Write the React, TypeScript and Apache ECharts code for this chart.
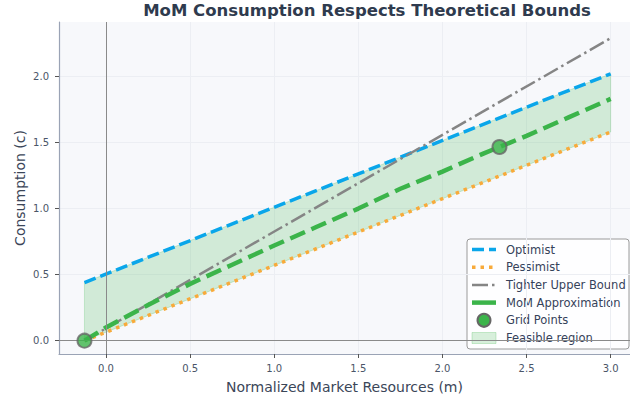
import React, { useEffect, useRef } from "react";
import * as echarts from "echarts";

// Normalized market resources and consumption bounds
const mStart = -0.128;
const mEnd = 3.0;
const optimistC = [0.44, 2.02];
const pessimistC = [0.0, 1.58];
const tighterC = [0.0, 2.29];

// MoM consumption function
const momM = [-0.128, 0.0, 0.25, 0.5, 0.75, 1.0, 1.25, 1.5, 1.75, 2.0, 2.25, 2.5, 2.75, 3.0];
const momC = [0.0, 0.1, 0.27, 0.43, 0.575, 0.72, 0.86, 1.0, 1.15, 1.28, 1.42, 1.55, 1.69, 1.83];

// Grid points of the solution
const gridM = [-0.128, 2.339];
const gridC = [0.0, 1.466];

const xTicks = [0, 0.5, 1.0, 1.5, 2.0, 2.5, 3.0];
const yTicks = [0, 0.5, 1.0, 1.5, 2.0];

const FONT = "DejaVu Sans";
const BLUE = "#0aa6ea";
const ORANGE = "#f8aa3a";
const GRAY = "#858585";
const GREEN = "#3bb44a";
const FILL = "rgba(59,180,74,0.2)";

const legendItems = ["Optimist", "Pessimist", "Tighter Upper Bound", "MoM Approximation", "Grid Points", "Feasible region"];

export default function App() {
  const ref = useRef<HTMLDivElement>(null);

  useEffect(() => {
    if (!ref.current) return;
    const chart = echarts.init(ref.current, null, { renderer: "svg" });

    const ends = [mStart, mEnd];
    const pair = (xs: number[], ys: number[]) => xs.map((x, i) => [x, ys[i]]);

    // legend drawn as a boxed list at the lower right
    const lx = 467;
    const ly = 239;
    const rowH = 17.7;
    const hx0 = 472;
    const hx1 = 496;
    const legendChildren: any[] = [
      {
        type: "rect",
        shape: { x: lx, y: ly, width: 162, height: 110, r: 3 },
        style: { fill: "rgba(255,255,255,0.85)", stroke: "#9a9a9a", lineWidth: 1 },
      },
    ];
    const handles = [
      { dash: [12, 5], color: BLUE, w: 3.5 },
      { dash: [3.5, 5], color: ORANGE, w: 3.5 },
      { dash: [16, 4, 2.5, 4], color: GRAY, w: 2.5 },
      { dash: null, color: GREEN, w: 4.5 },
    ];
    legendItems.forEach((name, i) => {
      const cy = ly + 10.5 + i * rowH;
      if (i < 4) {
        const h = handles[i];
        legendChildren.push({
          type: "line",
          shape: { x1: hx0, y1: cy, x2: hx1, y2: cy },
          style: { stroke: h.color, lineWidth: h.w, lineDash: h.dash || undefined },
        });
      } else if (i === 4) {
        legendChildren.push({
          type: "circle",
          shape: { cx: (hx0 + hx1) / 2, cy, r: 6.5 },
          style: { fill: GREEN, stroke: "#666", lineWidth: 2 },
        });
      } else {
        legendChildren.push({
          type: "rect",
          shape: { x: hx0, y: cy - 5.5, width: hx1 - hx0, height: 11 },
          style: { fill: FILL, stroke: "rgba(59,180,74,0.25)", lineWidth: 1 },
        });
      }
      legendChildren.push({
        type: "text",
        style: {
          x: 506,
          y: cy,
          text: name,
          font: `11.5px "${FONT}"`,
          fill: "#36425a",
          verticalAlign: "middle",
          align: "left",
        },
      });
    });

    chart.setOption({
      animation: false,
      backgroundColor: "#ffffff",
      textStyle: { fontFamily: FONT },
      title: {
        text: "MoM Consumption Respects Theoretical Bounds",
        left: 362,
        top: -3,
        textAlign: "center",
        textStyle: { fontFamily: FONT, fontSize: 16.5, fontWeight: "bold", color: "#2f3b4e" },
      },
      grid: {
        left: 59,
        right: 0,
        top: 22,
        bottom: 46,
        show: true,
        backgroundColor: "#f7f8fb",
        borderWidth: 0,
      },
      xAxis: {
        type: "value",
        min: -0.2794,
        max: 3.115,
        name: "Normalized Market Resources (m)",
        nameLocation: "middle",
        nameGap: 26,
        nameMoveOverlap: false,
        nameTextStyle: { fontFamily: FONT, fontSize: 14, color: "#3b4658" },
        axisLine: { show: true, onZero: false, lineStyle: { color: "#9aa3b5", width: 1.2 } },
        axisTick: { show: true, length: 4, inside: false, customValues: xTicks, lineStyle: { color: "#555" } },
        axisLabel: {
          customValues: xTicks,
          formatter: (v: number) => v.toFixed(1),
          fontFamily: FONT,
          fontSize: 10,
          color: "#4a5568",
          margin: 9,
        },
        splitLine: { show: true, lineStyle: { color: "#eceef3", width: 1 } },
      },
      yAxis: {
        type: "value",
        min: -0.1007,
        max: 2.412,
        name: "Consumption (c)",
        nameLocation: "middle",
        nameGap: 32,
        nameMoveOverlap: false,
        nameTextStyle: { fontFamily: FONT, fontSize: 14, color: "#3b4658" },
        axisLine: { show: true, onZero: false, lineStyle: { color: "#9aa3b5", width: 1.2 } },
        axisTick: { show: true, length: 4, inside: false, customValues: yTicks, lineStyle: { color: "#555" } },
        axisLabel: {
          customValues: yTicks,
          formatter: (v: number) => v.toFixed(1),
          fontFamily: FONT,
          fontSize: 10,
          color: "#4a5568",
          margin: 10,
        },
        splitLine: { show: true, lineStyle: { color: "#eceef3", width: 1 } },
      },
      series: [
        {
          name: "Feasible region",
          type: "custom",
          data: [[mStart, pessimistC[0]]],
          silent: true,
          z: 1,
          renderItem: (_params: any, api: any) => {
            const pts = [
              api.coord([mStart, pessimistC[0]]),
              api.coord([mEnd, pessimistC[1]]),
              api.coord([mEnd, optimistC[1]]),
              api.coord([mStart, optimistC[0]]),
            ];
            return {
              type: "polygon",
              shape: { points: pts },
              style: { fill: FILL, stroke: "rgba(59,180,74,0.22)", lineWidth: 1 },
            };
          },
          markLine: {
            silent: true,
            symbol: "none",
            label: { show: false },
            lineStyle: { color: "#8a8a8a", width: 1, type: "solid" },
            data: [{ xAxis: 0 }, { yAxis: 0 }],
          },
        },
        {
          name: "Optimist",
          type: "line",
          data: pair(ends, optimistC),
          symbol: "none",
          lineStyle: { color: BLUE, width: 3.5, type: [12, 5] },
          z: 3,
        },
        {
          name: "Pessimist",
          type: "line",
          data: pair(ends, pessimistC),
          symbol: "none",
          lineStyle: { color: ORANGE, width: 3.5, type: [3.5, 5] },
          z: 3,
        },
        {
          name: "Tighter Upper Bound",
          type: "line",
          data: pair(ends, tighterC),
          symbol: "none",
          lineStyle: { color: GRAY, width: 2.5, type: [16, 4, 2.5, 4] },
          z: 3,
        },
        {
          name: "MoM Approximation",
          type: "line",
          data: pair(momM, momC),
          symbol: "none",
          smooth: false,
          lineStyle: { color: GREEN, width: 4.5, type: [16, 7] },
          z: 4,
        },
        {
          name: "Grid Points",
          type: "scatter",
          data: pair(gridM, gridC),
          symbol: "circle",
          symbolSize: 14,
          itemStyle: { color: GREEN, borderColor: "#666", borderWidth: 2 },
          z: 5,
        },
      ],
      graphic: [{ type: "group", children: legendChildren, z: 100 }],
    });

    return () => chart.dispose();
  }, []);

  return <div ref={ref} style={{ position: "fixed", left: 0, top: 0, width: 630, height: 400 }} />;
}
